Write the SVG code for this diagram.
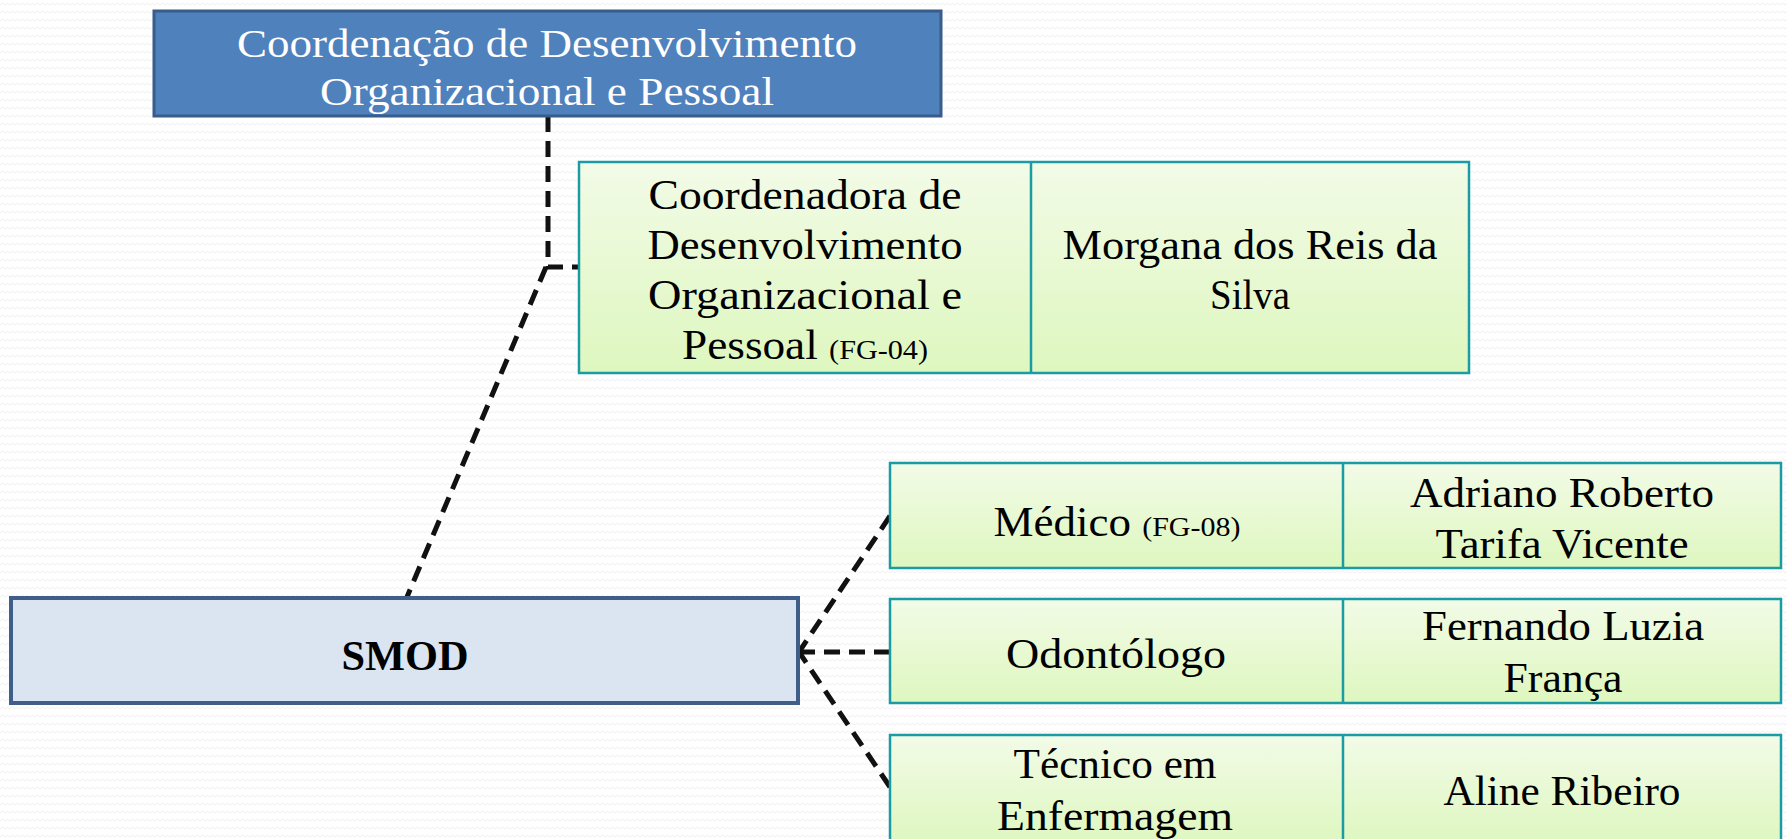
<svg xmlns="http://www.w3.org/2000/svg" width="1787" height="839" viewBox="0 0 1787 839">
<defs>
<pattern id="bg" width="10" height="8" patternUnits="userSpaceOnUse">
<rect width="10" height="8" fill="#ffffff"/>
<path d="M0 5 L2.5 3 L5 5 L7.5 3 L10 5" fill="none" stroke="#f0f0f0" stroke-width="1"/>
</pattern>
<linearGradient id="green" x1="0" y1="0" x2="0" y2="1">
<stop offset="0" stop-color="#f2fbe7"/>
<stop offset="1" stop-color="#def7bf"/>
</linearGradient>
</defs>
<style>
.t{font-family:"Liberation Serif","Times New Roman",serif;font-size:42px;fill:#000;text-anchor:middle}
.w{fill:#ffffff;font-size:40px}
.s{font-size:28px}
.gbox{fill:url(#green);stroke:#1b9ba2;stroke-width:2.5}
.div{stroke:#1b9ba2;stroke-width:2.5}
.con{fill:none;stroke:#111;stroke-width:5;stroke-dasharray:16 9}
</style>
<rect width="1787" height="839" fill="url(#bg)"/>

<g id="connectors">
<path class="con" d="M548 116 V267 H579"/>
<path class="con" d="M546 267 L407 597"/>
<path class="con" d="M890 516 L799 652"/>
<path class="con" d="M890 652 L799 652"/>
<path class="con" d="M890 787 L799 652"/>
</g>

<g id="coordenacao">
<rect x="154" y="11" width="787" height="105" fill="#4f81bd" stroke="#385d8a" stroke-width="3"/>
<text class="t w" x="547" y="57" textLength="620" lengthAdjust="spacingAndGlyphs">Coordenação de Desenvolvimento</text>
<text class="t w" x="547" y="105" textLength="454" lengthAdjust="spacingAndGlyphs">Organizacional e Pessoal</text>
</g>

<g id="coordenadora">
<rect class="gbox" x="579" y="162" width="890" height="211"/>
<line class="div" x1="1031" y1="162" x2="1031" y2="373"/>
<text class="t" x="805" y="209" textLength="313" lengthAdjust="spacingAndGlyphs">Coordenadora de</text>
<text class="t" x="805" y="259" textLength="315" lengthAdjust="spacingAndGlyphs">Desenvolvimento</text>
<text class="t" x="805" y="309" textLength="314" lengthAdjust="spacingAndGlyphs">Organizacional e</text>
<text class="t" x="805" y="359" textLength="246" lengthAdjust="spacingAndGlyphs">Pessoal <tspan class="s">(FG-04)</tspan></text>
<text class="t" x="1250" y="259" textLength="375" lengthAdjust="spacingAndGlyphs">Morgana dos Reis da</text>
<text class="t" x="1250" y="309" textLength="80" lengthAdjust="spacingAndGlyphs">Silva</text>
</g>

<g id="smod">
<rect x="11" y="598" width="787" height="105" fill="#dbe5f1" stroke="#3f5f8a" stroke-width="4"/>
<text class="t" x="405" y="670" font-weight="bold" textLength="127" lengthAdjust="spacingAndGlyphs">SMOD</text>
</g>

<g id="medico">
<rect class="gbox" x="890" y="463" width="891" height="105"/>
<line class="div" x1="1343" y1="463" x2="1343" y2="568"/>
<text class="t" x="1117" y="536" textLength="247" lengthAdjust="spacingAndGlyphs">Médico <tspan class="s">(FG-08)</tspan></text>
<text class="t" x="1562" y="507" textLength="304" lengthAdjust="spacingAndGlyphs">Adriano Roberto</text>
<text class="t" x="1562" y="558" textLength="253" lengthAdjust="spacingAndGlyphs">Tarifa Vicente</text>
</g>

<g id="odontologo">
<rect class="gbox" x="890" y="599" width="891" height="104"/>
<line class="div" x1="1343" y1="599" x2="1343" y2="703"/>
<text class="t" x="1116" y="668" textLength="220" lengthAdjust="spacingAndGlyphs">Odontólogo</text>
<text class="t" x="1563" y="640" textLength="282" lengthAdjust="spacingAndGlyphs">Fernando Luzia</text>
<text class="t" x="1563" y="692" textLength="119" lengthAdjust="spacingAndGlyphs">França</text>
</g>

<g id="tecnico">
<rect class="gbox" x="890" y="735" width="891" height="110"/>
<line class="div" x1="1343" y1="735" x2="1343" y2="845"/>
<text class="t" x="1115" y="778" textLength="203" lengthAdjust="spacingAndGlyphs">Técnico em</text>
<text class="t" x="1115" y="830" textLength="236" lengthAdjust="spacingAndGlyphs">Enfermagem</text>
<text class="t" x="1562" y="805" textLength="237" lengthAdjust="spacingAndGlyphs">Aline Ribeiro</text>
</g>
</svg>
